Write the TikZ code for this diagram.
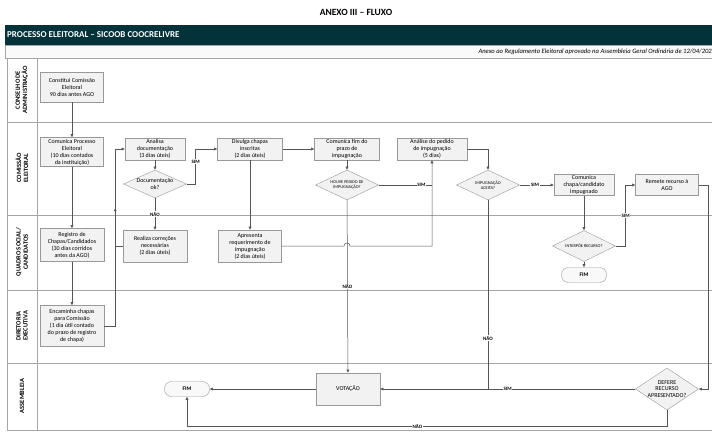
\documentclass[tikz,border=0pt]{standalone}
\usepackage{fontspec}
\setmainfont{Carlito}
\usetikzlibrary{shapes.geometric,arrows.meta,positioning,shadows,decorations.markings}
\definecolor{barra}{HTML}{04323A}
\definecolor{linha}{HTML}{555555}

\begin{document}
\begin{tikzpicture}[x=1pt,y=-1pt,
  caixa/.style={draw=gray!80,fill=gray!10,align=center,inner sep=1pt,
    drop shadow={shadow xshift=0.7pt,shadow yshift=-0.7pt,opacity=0.25},
    font=\fontsize{6}{7}\selectfont},
  decisao/.style={diamond,aspect=2.2,draw=gray!80,fill=gray!10,align=center,inner sep=0pt,
    minimum width=63pt,font=\fontsize{6}{6.8}\selectfont},
  mini/.style={font=\fontsize{4.3}{5}\selectfont},
  fim/.style={draw=gray!80,fill=gray!5,rounded corners=7pt,minimum width=45pt,minimum height=15pt,
    font=\bfseries\fontsize{5.5}{6}\selectfont},
  seta/.style={-{Latex[length=3.2pt,width=3.2pt]},draw=linha,line width=0.5pt},
  liga/.style={draw=linha,line width=0.5pt},
  rotulo/.style={fill=white,inner sep=0.6pt,font=\bfseries\fontsize{5}{5.5}\selectfont},
  raia/.style={rotate=90,align=center,font=\bfseries\fontsize{6.5}{7.2}\selectfont},
  faixa/.style={draw=gray!70,line width=0.6pt}]

\useasboundingbox[fill=white] (0,0) rectangle (712,431);

% cabecalho
\node (titulo) at (356,12) {\bfseries\fontsize{9.5}{10}\selectfont ANEXO III -- FLUXO};
\fill[barra] (5,25) rectangle (712,45);
\node (proc) [anchor=west,text=white,inner sep=0pt] at (7,35) {\bfseries\fontsize{9}{10}\selectfont PROCESSO ELEITORAL -- SICOOB COOCRELIVRE};
\draw[faixa,fill=gray!4] (5,45) rectangle (714,58);
\node (anexo) [anchor=east,inner sep=0pt] at (712,51.5) {\itshape\fontsize{6.6}{7}\selectfont Anexo ao Regulamento Eleitoral aprovado na Assembleia Geral Ordinária de 12/04/202};

% raias
\draw[faixa] (7,58) rectangle (37,430);
\foreach \y in {58,122,215,290,363,430}
  \draw[faixa] (7,\y) -- (714,\y);
\node (r1) [raia] at (22,90) {CONSELHO DE\\ADMINISTRAÇÃO};
\node (r2) [raia] at (22,168) {COMISSÃO\\ELEITORAL};
\node (r3) [raia] at (22,252) {QUADRO SOCIAL/\\CANDIDATOS};
\node (r4) [raia] at (22,326) {DIRETORIA\\EXECUTIVA};
\node (r5) [raia] at (22,396) {ASSEMBLEIA};

% etapas
\node (cons) [caixa,minimum width=63pt,minimum height=30pt] at (72,87) {Constitui Comissão\\Eleitoral\\90 dias antes AGO};
\node (comproc) [caixa,minimum width=63pt,minimum height=29pt] at (72,152) {Comunica Processo\\Eleitoral\\(10 dias contados\\da instituição)};
\node (reg) [caixa,minimum width=64pt,minimum height=33pt] at (72,245) {Registro de\\Chapas/Candidados\\(30 dias corridos\\antes da AGO)};
\node (enc) [caixa,minimum width=64pt,minimum height=41pt] at (72,326) {Encaminha chapas\\para Comissão\\(1 dia útil contado\\do prazo de registro\\de chapa)};
\node (anal) [caixa,minimum width=60pt,minimum height=22pt] at (155,149) {Analisa\\documentação\\(3 dias úteis)};
\node (doc) [decisao,minimum height=28pt] at (155,184) {Documentação\\ok?};
\node (real) [caixa,minimum width=64pt,minimum height=32pt] at (155,246) {Realiza correções\\necessárias\\(2 dias úteis)};
\node (div) [caixa,minimum width=65pt,minimum height=22pt] at (250,149) {Divulga chapas\\inscritas\\(2 dias úteis)};
\node (apres) [caixa,minimum width=63pt,minimum height=32pt] at (250,246) {Apresenta\\requerimento de\\impugnação\\(2 dias úteis)};
\node (prazo) [caixa,minimum width=65pt,minimum height=22pt] at (347,149) {Comunica fim do\\prazo de\\impugnação};
\node (houve) [decisao,mini,minimum height=30pt] at (347,185) {HOUVE PEDIDO DE\\IMPUGNAÇÃO?};
\node (anped) [caixa,minimum width=70pt,minimum height=22pt] at (432,149) {Análise do pedido\\de impugnação\\(5 dias)};
\node (aceita) [decisao,mini,minimum height=30pt] at (488,185) {IMPUGNAÇÃO\\ACEITA?};
\node (comimp) [caixa,minimum width=60pt,minimum height=21pt] at (584,185) {Comunica\\chapa/candidato\\impugnado};
\node (remete) [caixa,minimum width=63pt,minimum height=21pt] at (667,185) {Remete recurso à\\AGO};
\node (interp) [decisao,mini,inner sep=-3pt,minimum height=31pt] at (584,246) {INTERPÕE RECURSO?};
\node (fim1) [fim] at (584,275) {FIM};
\node (vot) [caixa,minimum width=64pt,minimum height=32pt] at (348,389) {VOTAÇÃO};
\node (fim2) [fim] at (187,389) {FIM};
\node (defere) [decisao,inner sep=-6pt,minimum height=42pt,font=\fontsize{6}{6.8}\selectfont] at (667,389) {DEFERE\\RECURSO\\APRESENTADO?};

% ligacoes
\draw[seta] (cons) -- (comproc);
\draw[seta] (comproc) -- (reg);
\draw[seta] (reg) -- (enc);
\draw[seta,postaction={decorate,decoration={markings,
  mark=at position 129pt with {\arrow{Latex[length=3.2pt,width=3.2pt]}}}}]
  (enc.east) -- ++(11,0) |- (anal.west);
\draw[liga] (real.west) -- ++(-8,0);
\draw[seta] (anal) -- (doc);
\draw[seta] (doc) -- node[rotulo] {NÃO} (real);
\draw[seta] (doc.east) -- ++(9,0) |- node[rotulo,pos=0.32] {SIM} (div.west);
\draw[seta] (div) -- (prazo);
\draw[seta] (div) -- (apres);
\draw[seta] (prazo) -- (houve);
\draw[liga] (houve.east) -- node[rotulo,pos=0.8] {SIM} (houve.east -| anped.south);
\coordinate (ponte) at (houve.south |- apres.east);
\draw[seta] (apres.east) -- ([xshift=-3pt]ponte) arc[start angle=180,end angle=360,radius=3]
  -- (ponte -| anped.south) -- (anped.south);
\draw[seta] (anped.east) -| (aceita.north);
\draw[seta] (aceita) -- node[rotulo,pos=0.45] {SIM} (comimp);
\draw[seta] (comimp) -- (interp);
\draw[seta] (interp) -- (fim1);
\draw[seta] (interp.east) -- ++(10,0) |- node[rotulo,pos=0.25] {SIM} (remete.west);
\draw[seta] (remete.east) -- ++(10,0) |- (defere.east);
\draw[seta] (defere) -- node[rotulo] {SIM} (vot);
\draw[liga] (aceita.south) -- node[rotulo,pos=0.73] {NÃO} (aceita.south |- defere.west);
\draw[seta] (houve) -- node[rotulo,pos=0.5] {NÃO} (vot);
\draw[seta] (vot) -- (fim2);
\draw[seta] (defere.south) -- ++(0,16) -| node[rotulo,pos=0.26] {NÃO} (fim2.south);
\end{tikzpicture}
\end{document}
